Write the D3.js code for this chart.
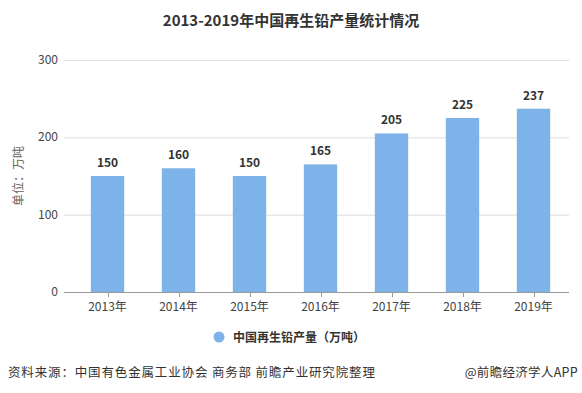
<!DOCTYPE html>
<html><head><meta charset="utf-8">
<script src="https://cdn.jsdelivr.net/npm/d3@7"></script>
<style>body{margin:0;background:#fff}svg{display:block;font-family:"Microsoft YaHei","Noto Sans CJK SC",sans-serif}</style>
</head><body><svg id="c" width="582" height="393"></svg>
<script>
const categories = ["2013年","2014年","2015年","2016年","2017年","2018年","2019年"];
const values = [150,160,150,165,205,225,237];
const yTicks = [0,100,200,300];
const seriesName = "中国再生铅产量（万吨）";

const svg = d3.select("#c");
const x = d3.scaleBand().domain(categories).range([72,569]).paddingInner(0.53).paddingOuter(0.265);
const y = d3.scaleLinear().domain([0,300]).range([292,60]);
const color = "#7db3e8";

svg.append("text").attr("x",291).attr("y",26).attr("text-anchor","middle")
  .attr("font-size",15).attr("font-weight","bold").attr("fill","#333")
  .text("2013-2019年中国再生铅产量统计情况");

// grid
svg.append("g").selectAll("line").data(yTicks.filter(d=>d>0)).join("line")
  .attr("x1",64).attr("x2",569).attr("y1",d=>y(d)+0.5).attr("y2",d=>y(d)+0.5)
  .attr("stroke","#ddd");
// y labels
svg.append("g").selectAll("text").data(yTicks).join("text")
  .attr("x",58).attr("y",d=>y(d)+4).attr("text-anchor","end")
  .attr("font-size",12).attr("fill","#444").text(d=>d);

svg.append("text").attr("transform","translate(23,176) rotate(-90)")
  .attr("text-anchor","middle").attr("font-size",12).attr("fill","#666").text("单位：万吨");

// bars
svg.append("g").selectAll("rect").data(values).join("rect")
  .attr("x",(d,i)=>x(categories[i])).attr("width",x.bandwidth())
  .attr("y",d=>y(d)).attr("height",d=>y(0)-y(d)).attr("fill",color);
svg.append("g").selectAll("text").data(values).join("text")
  .attr("x",(d,i)=>x(categories[i])+x.bandwidth()/2).attr("y",d=>y(d)-9)
  .attr("text-anchor","middle").attr("font-size",12).attr("font-weight","bold")
  .attr("fill","#333").text(d=>d);

// x axis
svg.append("line").attr("x1",64).attr("x2",569).attr("y1",y(0)+0.5).attr("y2",y(0)+0.5).attr("stroke","#999");
svg.append("g").selectAll("line").data(categories).join("line")
  .attr("x1",d=>Math.round(x(d)+x.bandwidth()/2)+0.5).attr("x2",d=>Math.round(x(d)+x.bandwidth()/2)+0.5)
  .attr("y1",y(0)).attr("y2",y(0)+5).attr("stroke","#999");
svg.append("g").selectAll("text").data(categories).join("text")
  .attr("x",d=>x(d)+x.bandwidth()/2).attr("y",y(0)+19).attr("text-anchor","middle")
  .attr("font-size",12).attr("fill","#444").text(d=>d);

// legend
svg.append("circle").attr("cx",219).attr("cy",337).attr("r",5.5).attr("fill",color);
svg.append("text").attr("x",233).attr("y",341.5).attr("font-size",12).attr("font-weight","bold")
  .attr("fill","#333").text(seriesName);

// footer
svg.append("text").attr("x",8).attr("y",377).attr("font-size",12.5).attr("fill","#333")
  .attr("letter-spacing",0.85)
  .text("资料来源：中国有色金属工业协会 商务部 前瞻产业研究院整理");
svg.append("text").attr("x",578).attr("y",377).attr("text-anchor","end").attr("font-size",12.5).attr("fill","#333")
  .attr("letter-spacing",0.3)
  .text("@前瞻经济学人APP");
</script></body></html>
